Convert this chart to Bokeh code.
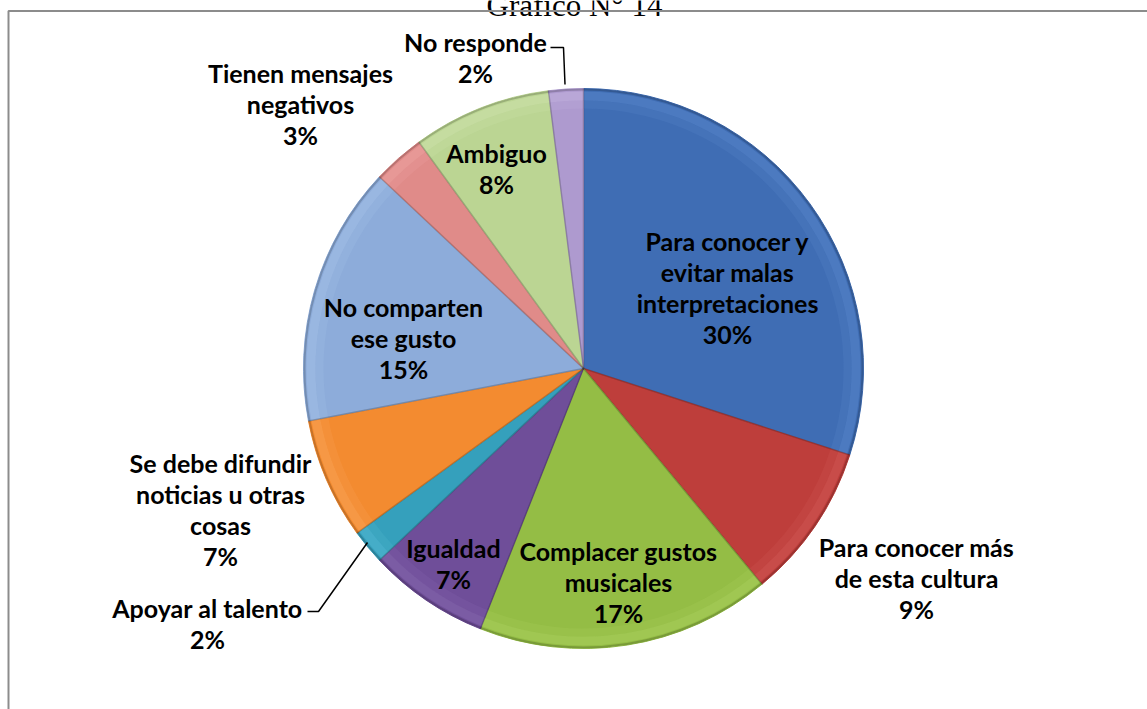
import math
from bokeh.plotting import figure
from bokeh.models import Range1d, ColumnDataSource
from bokeh.core.properties import value
from bokeh.embed import file_html
from bokeh.resources import INLINE

# ---- data ----
title = "Gráfico N° 14"
categories = [
    "Para conocer y\nevitar malas\ninterpretaciones",
    "Para conocer más\nde esta cultura",
    "Complacer gustos\nmusicales",
    "Igualdad",
    "Apoyar al talento",
    "Se debe difundir\nnoticias u otras\ncosas",
    "No comparten\nese gusto",
    "Tienen mensajes\nnegativos",
    "Ambiguo",
    "No responde",
]
percent = [30, 9, 17, 7, 2, 7, 15, 3, 8, 2]
colors = ["#3F6DB4", "#BE3E3B", "#94BD45", "#6F4E99", "#35A0BC",
          "#F38B30", "#8DACDA", "#E08B89", "#BBD593", "#AE9ACF"]
rim_colors = ["#5A88CC", "#D25A57", "#ABD15F", "#8769B0", "#55BAD3",
              "#F9A55A", "#A6C2E8", "#EDA5A3", "#CFE4AE", "#C4B3E0"]

# ---- layout (page pixel coordinates) ----
W, H = 1147, 709
OX, OY = 0, 0
def X(px): return px - OX
def Y(py): return (OY + H) - py

cx, cy, R = X(583), Y(368), 280
label_pos = [(727, 287), (916, 577), (618, 581), (453, 563), (207, 623),
             (220, 509), (403, 337), (300, 103), (496, 168), (475, 57)]
line_gap = 31

p = figure(width=W, height=H, output_backend="svg", toolbar_location=None,
           x_range=Range1d(0, W), y_range=Range1d(0, H), min_border=0)
p.axis.visible = False
p.grid.visible = False
p.outline_line_color = None
p.background_fill_color = "white"
p.border_fill_color = "white"

# title (cropped at top as in the original)
p.text(x=[X(574)], y=[Y(5)], text=[title], text_font=value("Liberation Serif"),
       text_font_size="31px", text_align="center", text_baseline="alphabetic",
       text_color="#000000")

# frame (open to right/bottom like the cropped original)
p.line([X(8), X(8), X(1147)], [Y(709), Y(10.5), Y(10.5)],
       line_color="#8C8C8C", line_width=2)

total = sum(percent)
starts, ends = [], []
cum = 0
for v in percent:
    a0 = math.pi / 2 - 2 * math.pi * (cum + v) / total
    a1 = math.pi / 2 - 2 * math.pi * cum / total
    starts.append(a0)
    ends.append(a1)
    cum += v

src = ColumnDataSource(dict(start=starts, end=ends, color=colors, rim=rim_colors))

# base slices
p.wedge(x=cx, y=cy, radius=R, start_angle="start", end_angle="end",
        fill_color="color", line_color="color", line_width=1, source=src)
# bevel rim highlight
p.annular_wedge(x=cx, y=cy, inner_radius=R - 12, outer_radius=R - 3,
                start_angle="start", end_angle="end", fill_color="rim",
                fill_alpha=0.5, line_color=None, source=src)
p.annular_wedge(x=cx, y=cy, inner_radius=R - 20, outer_radius=R - 12,
                start_angle="start", end_angle="end", fill_color="rim",
                fill_alpha=0.22, line_color=None, source=src)
# darker outer edge
p.annular_wedge(x=cx, y=cy, inner_radius=R - 2, outer_radius=R,
                start_angle="start", end_angle="end", fill_color="#000000",
                fill_alpha=0.18, line_color=None, source=src)
# slice separators
for a in starts:
    p.line([cx, cx + R * math.cos(a)], [cy, cy + R * math.sin(a)],
           line_color="#000000", line_alpha=0.2, line_width=1.5)

# labels
tx, ty, tt = [], [], []
for cat, v, (lx, ly) in zip(categories, percent, label_pos):
    lines = cat.split("\n") + [f"{v}%"]
    n = len(lines)
    for i, s in enumerate(lines):
        tx.append(X(lx))
        ty.append(Y(ly + (i - (n - 1) / 2) * line_gap))
        tt.append(s)
p.text(x=tx, y=ty, text=tt, text_font=value("Lato"), text_font_style="bold",
       text_font_size="25px", text_align="center", text_baseline="middle",
       text_color="#000000")

# leader lines
p.line([X(307), X(318), X(367)], [Y(611), Y(611), Y(542)],
       line_color="#000000", line_width=1.5)
p.line([X(550), X(563), X(564.5)], [Y(47), Y(47), Y(84)],
       line_color="#000000", line_width=1.5)

open("out.html", "w").write(file_html(p, INLINE))
